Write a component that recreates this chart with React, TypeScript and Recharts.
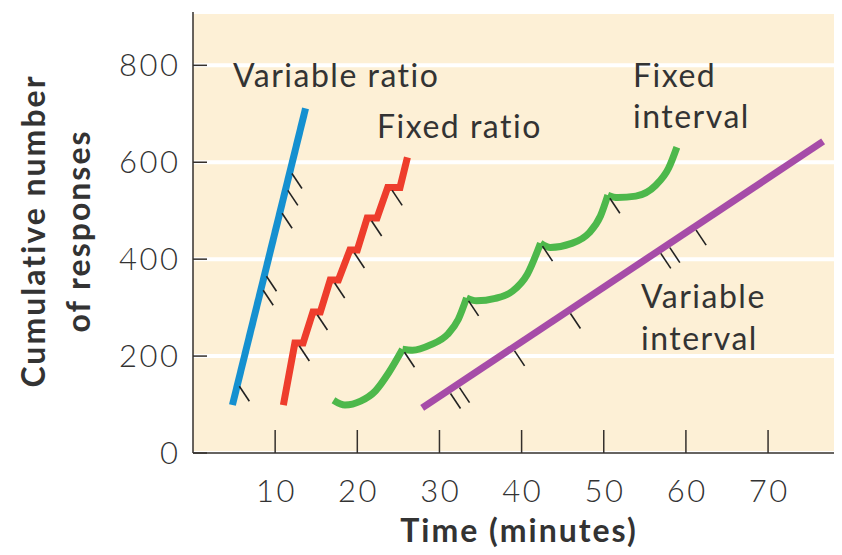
import React from 'react';
import { LineChart, Line, XAxis, YAxis, CartesianGrid } from 'recharts';

// minutes / cumulative responses
const variableRatio = [
  { x: 4.8, y: 99 },
  { x: 13.7, y: 711 },
];
const variableRatioMarks = [
  { x: 11.8, y: 583 },
  { x: 11.3, y: 548 },
  { x: 10.6, y: 501 },
  { x: 8.7, y: 371 },
  { x: 8.3, y: 342 },
  { x: 5.4, y: 144 },
];

const fixedRatio = [
  { x: 11.0, y: 99 },
  { x: 12.4, y: 227 },
  { x: 13.4, y: 227 },
  { x: 14.6, y: 291 },
  { x: 15.5, y: 291 },
  { x: 16.7, y: 357 },
  { x: 17.7, y: 357 },
  { x: 19.1, y: 419 },
  { x: 20.0, y: 419 },
  { x: 21.2, y: 485 },
  { x: 22.4, y: 485 },
  { x: 23.7, y: 548 },
  { x: 25.2, y: 548 },
  { x: 26.1, y: 610 },
];
const fixedRatioMarks = [
  { x: 12.7, y: 227 },
  { x: 14.9, y: 291 },
  { x: 17.0, y: 357 },
  { x: 19.4, y: 419 },
  { x: 21.5, y: 485 },
  { x: 24.0, y: 548 },
];

// one scallop per reinforcement
const fixedIntervalScallops = [
  [
    { x: 17.1, y: 109 },
    { x: 18.5, y: 99 },
    { x: 20.4, y: 107 },
    { x: 22.2, y: 128 },
    { x: 23.8, y: 165 },
    { x: 25.5, y: 214 },
  ],
  [
    { x: 25.5, y: 214 },
    { x: 26.7, y: 212 },
    { x: 28.9, y: 223 },
    { x: 31.0, y: 245 },
    { x: 32.3, y: 276 },
    { x: 33.3, y: 320 },
  ],
  [
    { x: 33.3, y: 320 },
    { x: 34.5, y: 314 },
    { x: 36.8, y: 319 },
    { x: 38.9, y: 334 },
    { x: 40.7, y: 369 },
    { x: 42.3, y: 433 },
  ],
  [
    { x: 42.3, y: 433 },
    { x: 43.5, y: 424 },
    { x: 46.0, y: 432 },
    { x: 48.2, y: 454 },
    { x: 49.6, y: 489 },
    { x: 50.5, y: 532 },
  ],
  [
    { x: 50.5, y: 532 },
    { x: 51.7, y: 527 },
    { x: 53.9, y: 530 },
    { x: 56.3, y: 552 },
    { x: 57.9, y: 588 },
    { x: 58.9, y: 631 },
  ],
];
const fixedIntervalMarks = [
  { x: 25.5, y: 214 },
  { x: 33.3, y: 320 },
  { x: 42.3, y: 433 },
  { x: 50.5, y: 532 },
];

const variableInterval = [
  { x: 27.9, y: 93 },
  { x: 76.7, y: 643 },
];
const variableIntervalMarks = [
  { x: 31.1, y: 129 },
  { x: 32.2, y: 141 },
  { x: 38.9, y: 217 },
  { x: 45.7, y: 294 },
  { x: 56.7, y: 418 },
  { x: 57.8, y: 430 },
  { x: 61.0, y: 466 },
];

const xTicks = [10, 20, 30, 40, 50, 60, 70];
const yTicks = [0, 200, 400, 600, 800];

const FONT = 'Lato, "Open Sans", sans-serif';
const AXIS = '#35302c';
const TICK_LS = 2.5;

const XTick = (props: any) => {
  const { x, y, payload } = props;
  return (
    <g>
      <line x1={x} x2={x} y1={y} y2={y - 23} stroke={AXIS} strokeWidth={1.5} />
      <text
        x={x + TICK_LS / 2}
        y={y + 49}
        textAnchor="middle"
        fontSize={31}
        fontWeight={300}
        letterSpacing={TICK_LS}
        fill="#333"
        fontFamily={FONT}
      >
        {payload.value}
      </text>
    </g>
  );
};

const YTick = (props: any) => {
  const { x, y, payload } = props;
  return (
    <g>
      <line x1={x} x2={x + 14} y1={y} y2={y} stroke={AXIS} strokeWidth={1.5} />
      <text
        x={x - 15 + TICK_LS}
        y={y + 11}
        textAnchor="end"
        fontSize={31}
        fontWeight={300}
        letterSpacing={TICK_LS}
        fill="#333"
        fontFamily={FONT}
      >
        {payload.value}
      </text>
    </g>
  );
};

const Hatch = (props: any) => {
  const { cx, cy, index } = props;
  if (cx == null || cy == null) return <g key={index} />;
  return <line key={index} x1={cx + 2} y1={cy + 3} x2={cx + 12} y2={cy + 18} stroke="#222" strokeWidth={1.6} />;
};

const lineProps = {
  dataKey: 'y',
  type: 'linear' as const,
  strokeWidth: 7,
  dot: false,
  activeDot: false,
  isAnimationActive: false,
  legendType: 'none' as const,
};

const hatchProps = {
  dataKey: 'y',
  stroke: 'none',
  dot: Hatch,
  activeDot: false,
  isAnimationActive: false,
  legendType: 'none' as const,
};

const textStyle = { fontFamily: FONT, fontSize: 32, letterSpacing: 1.5, fill: '#333' };
const titleStyle = { fontFamily: FONT, fontSize: 32, fontWeight: 700, letterSpacing: 2, fill: '#333' };

export default function App() {
  return (
    <div style={{ position: 'relative', width: 834, height: 547 }}>
      <LineChart width={834} height={547} margin={{ top: 4, right: 0, bottom: 0, left: 0 }}>
        <CartesianGrid vertical={false} stroke="#ffffff" strokeWidth={4} fill="#FDF0D6" fillOpacity={1} />
        <XAxis
          dataKey="x"
          type="number"
          domain={[0, 79]}
          ticks={xTicks}
          interval={0}
          height={102}
          tickSize={0}
          tickMargin={0}
          tick={XTick}
          stroke={AXIS}
          strokeWidth={1.5}
          allowDataOverflow
        />
        <YAxis
          dataKey="y"
          type="number"
          domain={[0, 910]}
          ticks={yTicks}
          interval={0}
          width={185}
          tickSize={0}
          tickMargin={0}
          tick={YTick}
          stroke={AXIS}
          strokeWidth={1.5}
          allowDataOverflow
        />
        <Line {...lineProps} data={variableRatio} stroke="#1590D0" />
        <Line {...lineProps} data={fixedRatio} stroke="#EE3D2C" strokeLinejoin="miter" />
        {fixedIntervalScallops.map((seg, i) => (
          <Line key={'fi' + i} {...lineProps} type="monotone" data={seg} stroke="#4DB84B" />
        ))}
        <Line {...lineProps} data={variableInterval} stroke="#A64CA8" />
        <Line {...hatchProps} data={variableRatioMarks} />
        <Line {...hatchProps} data={fixedRatioMarks} />
        <Line {...hatchProps} data={fixedIntervalMarks} />
        <Line {...hatchProps} data={variableIntervalMarks} />
      </LineChart>
      <svg width={834} height={547} style={{ position: 'absolute', left: 0, top: 0, pointerEvents: 'none' }}>
        <text x={225} y={79} {...textStyle}>Variable ratio</text>
        <text x={369} y={130} {...textStyle}>Fixed ratio</text>
        <text x={625} y={79} {...textStyle}>Fixed</text>
        <text x={625} y={120} {...textStyle}>interval</text>
        <text x={633} y={300} {...textStyle}>Variable</text>
        <text x={633} y={342} {...textStyle}>interval</text>
        <text x={511} y={534} textAnchor="middle" {...titleStyle}>Time (minutes)</text>
        <text transform="rotate(-90)" x={-223} y={37} textAnchor="middle" {...titleStyle}>Cumulative number</text>
        <text transform="rotate(-90)" x={-223} y={82} textAnchor="middle" {...titleStyle}>of responses</text>
      </svg>
    </div>
  );
}
